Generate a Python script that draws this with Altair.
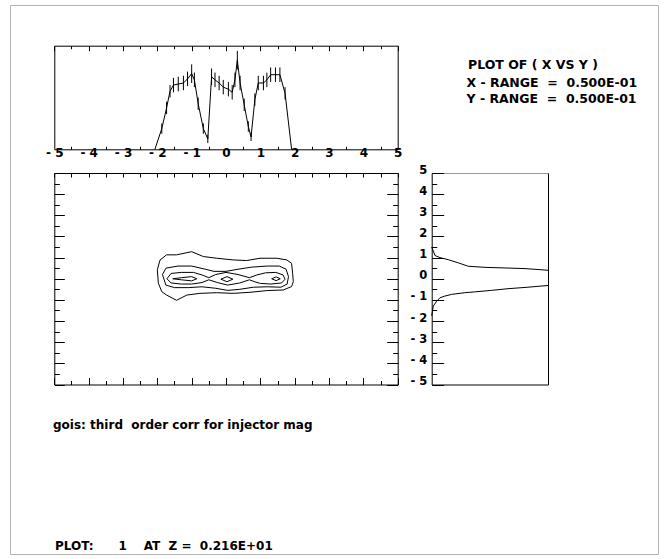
import altair as alt
import pandas as pd

# ---------------- data ----------------
# top panel: X profile (histogram with error bars), counts in % of panel height
hist_x = [-2.07, -1.87, -1.73, -1.63, -1.53, -1.39, -1.24, -1.12, -1.00, -0.92, -0.81, -0.66, -0.53,
          -0.42, -0.32, -0.20, -0.08, 0.07, 0.18, 0.26, 0.33, 0.41, 0.53, 0.65, 0.73, 0.84, 0.94,
          1.09, 1.19, 1.30, 1.44, 1.57, 1.72, 1.91]
hist_c = [0, 20, 40, 56, 62, 63, 64, 68, 73, 67, 44, 20, 10, 70, 67, 64, 60, 58, 55, 67, 86, 64,
          43, 22, 12, 48, 64, 64, 67, 72, 72, 72, 54, 0]
hist_e = [0, 5, 6, 6, 7, 7, 7, 7, 9, 7, 6, 5, 4, 8, 7, 7, 7, 7, 7, 7, 9, 7, 6, 5, 4, 6, 7, 7, 7,
          7, 7, 7, 6, 0]

# main panel: contour lines (x, y) in data units
c1_x = [-1.92, -1.73, -1.44, -1.00, -0.66, -0.27, 0.21, 0.60, 0.99, 1.48, 1.77, 1.91, 1.94, 1.96,
        1.91, 1.67, 1.19, 0.70, 0.21, -0.27, -0.76, -1.14, -1.44, -1.73, -1.87, -1.97, -2.00, -1.92]
c1_y = [0.89, 1.13, 1.13, 1.28, 1.05, 0.97, 0.89, 0.86, 0.97, 0.97, 0.89, 0.73, 0.26, -0.14,
        -0.37, -0.53, -0.56, -0.64, -0.69, -0.66, -0.69, -0.77, -1.02, -0.77, -0.61, -0.21, 0.42, 0.89]
c2_x = [-1.85, -1.75, -1.40, -1.00, -0.60, -0.35, 0.00, 0.35, 0.75, 1.20, 1.55, 1.75, 1.82, 1.78,
        1.60, 1.20, 0.80, 0.40, 0.05, -0.30, -0.70, -1.10, -1.50, -1.75, -1.85]
c2_y = [0.20, 0.50, 0.60, 0.60, 0.45, 0.35, 0.35, 0.45, 0.55, 0.60, 0.60, 0.45, 0.10, -0.25,
        -0.40, -0.38, -0.40, -0.50, -0.55, -0.45, -0.38, -0.42, -0.42, -0.30, 0.20]
c3_x = [-1.72, -1.60, -1.30, -0.95, -0.70, -0.50, -0.30, 0.00, 0.35, 0.68, 0.90, 1.15, 1.45, 1.66,
        1.72, 1.62, 1.30, 1.00, 0.85, 0.68, 0.40, 0.05, -0.25, -0.50, -0.70, -1.00, -1.30, -1.60, -1.72]
c3_y = [0.00, 0.25, 0.30, 0.30, 0.18, 0.05, 0.20, 0.30, 0.20, 0.05, 0.18, 0.28, 0.30, 0.18,
        -0.02, -0.20, -0.25, -0.22, -0.15, -0.05, -0.20, -0.30, -0.18, -0.05, -0.18, -0.25, -0.25, -0.20, 0.00]
c4_x = [-1.55, -1.30, -1.00, -0.85, -1.00, -1.30, -1.55]
c4_y = [0.00, 0.05, 0.10, 0.00, -0.10, -0.05, 0.00]
c5_x = [-0.15, 0.03, 0.20, 0.03, -0.15]
c5_y = [-0.02, 0.10, -0.02, -0.14, -0.02]
c6_x = [1.33, 1.46, 1.58, 1.46, 1.33]
c6_y = [0.00, 0.09, 0.00, -0.09, 0.00]

# right panel: Y profile, counts in % of panel width
ru_c = [0, 2.8, 7.1, 14.3, 22.9, 31.5, 45.8, 63.0, 80.2, 93.1, 100]
ru_y = [1.50, 1.10, 1.00, 0.90, 0.75, 0.59, 0.54, 0.51, 0.48, 0.43, 0.40]
rl_c = [100, 93.1, 82.8, 65.6, 51.3, 37.0, 28.4, 17.0, 11.3, 7.1, 4.3, 1.4, 0]
rl_y = [-0.32, -0.35, -0.40, -0.47, -0.55, -0.62, -0.66, -0.74, -0.82, -0.90, -1.06, -1.29, -1.75]

tick_int = [-5, -4, -3, -2, -1, 0, 1, 2, 3, 4, 5]
tick_half = [-4.5, -3.5, -2.5, -1.5, -0.5, 0.5, 1.5, 2.5, 3.5, 4.5]
tick_all = sorted(tick_int + tick_half)

title_lines = ["PLOT OF ( X VS Y )",
               "X - RANGE  =  0.500E-01",
               "Y - RANGE  =  0.500E-01"]
comment = "gois: third  order corr for injector mag"
footer = "PLOT:      1    AT  Z =  0.216E+01"

# ---------------- tables ----------------
hist = pd.DataFrame({"x": hist_x, "c": hist_c, "e": hist_e})
hist["lo"] = hist["c"] - hist["e"]
hist["hi"] = hist["c"] + hist["e"]
errs = hist[hist["e"] > 0]

rows = []
for cid, (xs, ys) in enumerate([(c1_x, c1_y), (c2_x, c2_y), (c3_x, c3_y),
                                 (c4_x, c4_y), (c5_x, c5_y), (c6_x, c6_y)]):
    for i, (a, b) in enumerate(zip(xs, ys)):
        rows.append({"cid": cid, "i": i, "x": a, "y": b})
cont = pd.DataFrame(rows)

rows = []
for i, (a, b) in enumerate(zip(ru_c, ru_y)):
    rows.append({"sid": 0, "i": i, "c": a, "y": b})
for i, (a, b) in enumerate(zip(rl_c, rl_y)):
    rows.append({"sid": 1, "i": i, "c": a, "y": b})
prof = pd.DataFrame(rows)

# ---------------- layout (plot area = page frame) ----------------
W, H = 648, 549
TL, TR, TT, TB = 44.3, 387.7, 40.7, 144.3      # top panel
MT, MB = 168.0, 379.5                           # main + right panel vertical
RL, RR = 421.7, 538.0                           # right panel
FONT = "DejaVu Sans"


def sx_top():
    return alt.Scale(domain=[-5, 5], range=[TL, TR], nice=False, zero=False)


def sy_top():
    return alt.Scale(domain=[0, 100], range=[TB, TT], nice=False, zero=False)


def sy_main():
    return alt.Scale(domain=[-5, 5], range=[MB, MT], nice=False, zero=False)


def sx_right():
    return alt.Scale(domain=[0, 100], range=[RL, RR], nice=False, zero=False)


def ax(orient, offset, values=None, tick=0, domain=True, labels=False, **kw):
    d = dict(orient=orient, offset=offset, domain=domain, labels=labels, title=None,
             grid=False, labelFlush=False, labelOverlap=False)
    if values is not None:
        d["values"] = values
    if tick > 0:
        d["ticks"] = True
        d["tickSize"] = tick
    else:
        d["ticks"] = False
        d["tickSize"] = 0
    d.update(kw)
    return alt.Axis(**d)


def axis_layer(df, xf, yf, xs, ys, xa, ya):
    return alt.Chart(df).mark_point(opacity=0, size=1).encode(
        x=alt.X(xf, type="quantitative", scale=xs, axis=xa),
        y=alt.Y(yf, type="quantitative", scale=ys, axis=ya),
    )


neg_label = "datum.value < 0 ? '- ' + abs(datum.value) : '' + datum.value"

layers = []

# ---- top panel axes
layers.append(axis_layer(hist, "x", "c", sx_top(), sy_top(),
                         ax("bottom", TB - H, tick_int, labels=True, labelExpr=neg_label,
                            labelPadding=-2, labelFontSize=12),
                         ax("right", TL - W)))
layers.append(axis_layer(hist, "x", "c", sx_top(), sy_top(),
                         ax("top", -TB, tick_half, tick=3, domain=False),
                         ax("left", -TR)))
layers.append(axis_layer(hist, "x", "c", sx_top(), sy_top(),
                         ax("bottom", TT - H, tick_int, tick=5), None))
layers.append(axis_layer(hist, "x", "c", sx_top(), sy_top(),
                         ax("bottom", TT - H, tick_half, tick=3, domain=False), None))

# ---- main panel axes
layers.append(axis_layer(cont, "x", "y", sx_top(), sy_main(),
                         ax("bottom", MT - H, tick_all, tick=4),
                         ax("right", TL - W, tick_int, tick=10)))
layers.append(axis_layer(cont, "x", "y", sx_top(), sy_main(),
                         ax("top", -MB, tick_int, tick=7),
                         ax("left", -TR, tick_int, tick=11)))
layers.append(axis_layer(cont, "x", "y", sx_top(), sy_main(),
                         ax("top", -MB, tick_half, tick=4, domain=False),
                         ax("right", TL - W, tick_half, tick=5, domain=False)))
layers.append(axis_layer(cont, "x", "y", sx_top(), sy_main(), None,
                         ax("left", -TR, tick_half, tick=5, domain=False)))

# ---- right panel axes
layers.append(axis_layer(prof, "c", "y", sx_right(), sy_main(),
                         ax("bottom", MT - H, domainColor="#9a9a9a"),
                         ax("left", -RL, tick_int, labels=True, labelExpr=neg_label,
                            labelPadding=5, labelBaseline="alphabetic", labelAlign="right",
                            labelFontSize=11.5)))
layers.append(axis_layer(prof, "c", "y", sx_right(), sy_main(),
                         ax("top", -MB),
                         ax("right", RL - W, tick_int, tick=12, domain=False)))
layers.append(axis_layer(prof, "c", "y", sx_right(), sy_main(), None,
                         ax("right", RL - W, tick_half, tick=5, domain=False)))
layers.append(axis_layer(prof, "c", "y", sx_right(), sy_main(), None,
                         ax("left", -RR)))

# ---- data marks
layers.append(alt.Chart(hist).mark_line(color="black", strokeWidth=1).encode(
    x=alt.X("x:Q", scale=sx_top(), axis=None),
    y=alt.Y("c:Q", scale=sy_top(), axis=None),
    order=alt.Order("x:Q"),
))
layers.append(alt.Chart(errs).mark_rule(color="black", strokeWidth=1).encode(
    x=alt.X("x:Q", scale=sx_top(), axis=None),
    y=alt.Y("lo:Q", scale=sy_top(), axis=None),
    y2="hi:Q",
))
layers.append(alt.Chart(cont).mark_line(color="black", strokeWidth=1).encode(
    x=alt.X("x:Q", scale=sx_top(), axis=None),
    y=alt.Y("y:Q", scale=sy_main(), axis=None),
    detail="cid:N",
    order=alt.Order("i:Q"),
))
layers.append(alt.Chart(prof).mark_line(color="black", strokeWidth=1).encode(
    x=alt.X("c:Q", scale=sx_right(), axis=None),
    y=alt.Y("y:Q", scale=sy_main(), axis=None),
    detail="sid:N",
    order=alt.Order("i:Q"),
))

# ---- texts
NB = "\u00a0"


def keep_spaces(s):
    # keep runs of spaces visible in SVG
    out = []
    prev_space = False
    for ch in s:
        if ch == " " and prev_space:
            out.append(NB)
        else:
            out.append(ch)
        prev_space = ch in (" ", NB)
    return "".join(out)


txt_font = dict(font=FONT, fontWeight="bold", color="black", align="left",
                baseline="middle")
for s, px, py, fs in [(title_lines[0], 458, 60, 12.5),
                      (title_lines[1], 456.5, 78.3, 12.5),
                      (title_lines[2], 456.5, 94.3, 12.5),
                      (comment, 43, 420, 12),
                      (footer, 45, 540.5, 12)]:
    t = keep_spaces(s)
    layers.append(alt.Chart(pd.DataFrame({"t": [t]})).mark_text(fontSize=fs, **txt_font).encode(
        x=alt.value(px), y=alt.value(py), text="t:N"))

chart = (
    alt.layer(*layers)
    .resolve_scale(x="independent", y="independent")
    .properties(width=W, height=H, autosize=alt.AutoSizeParams(type="none"),
                padding={"left": 10, "top": 5, "right": 12, "bottom": 5},
                background="white")
    .configure_view(stroke="#b4b4b4", strokeWidth=1)
    .configure_axis(labelFont=FONT, labelFontSize=11.5, labelFontWeight="bold",
                    labelColor="black", domainColor="black", tickColor="black",
                    domainWidth=1, tickWidth=1)
)

chart.save("out.html", embed_options={"renderer": "svg", "actions": False})
